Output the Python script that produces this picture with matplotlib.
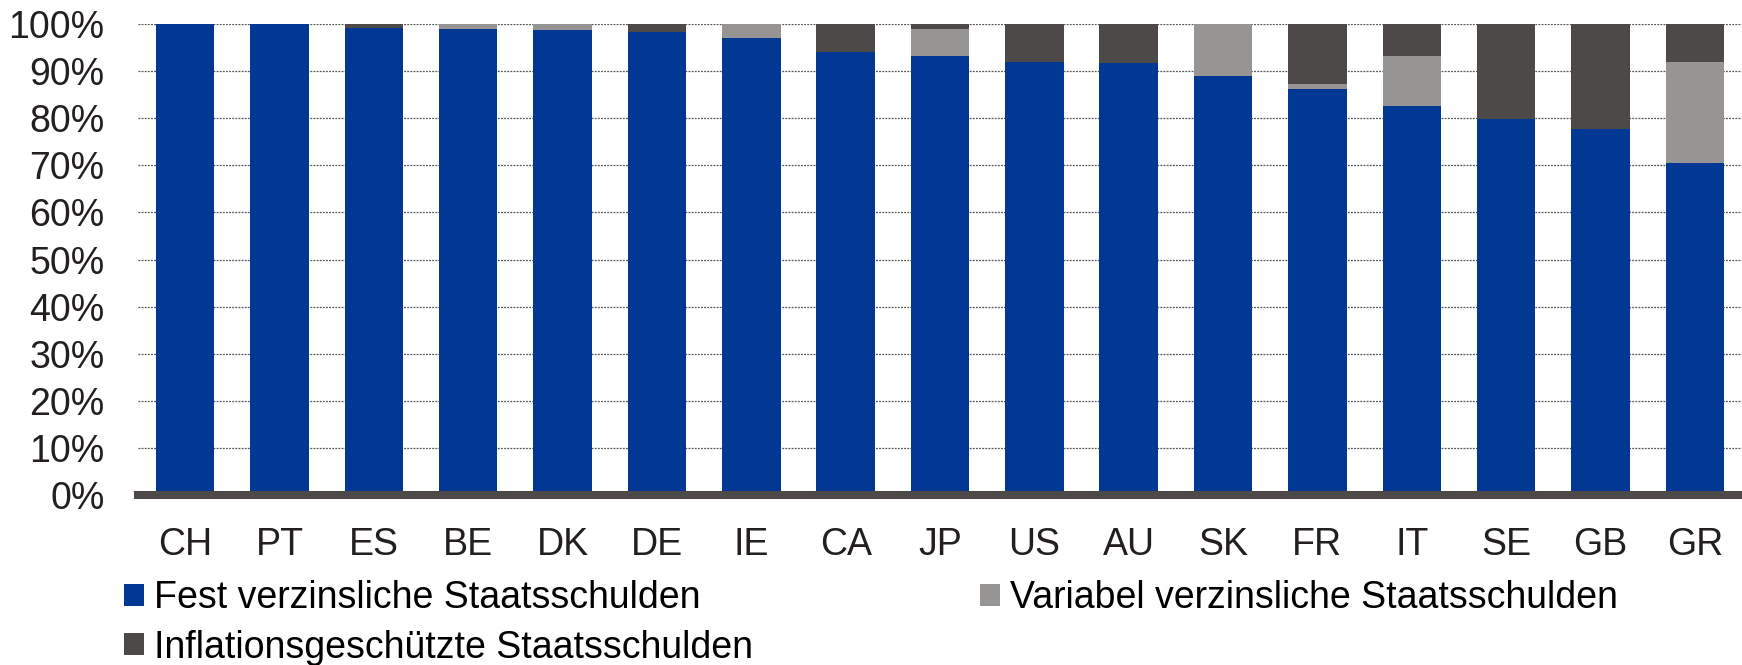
import matplotlib
matplotlib.use("Agg")
import matplotlib.pyplot as plt
from matplotlib.patches import Patch
import numpy as np

plt.rcParams['font.family'] = ['Liberation Sans', 'DejaVu Sans']

countries = ["CH", "PT", "ES", "BE", "DK", "DE", "IE", "CA", "JP", "US", "AU",
             "SK", "FR", "IT", "SE", "GB", "GR"]
fest = [100.0, 100.0, 99.2, 98.9, 98.7, 98.2, 97.1, 94.1, 93.3, 92.0, 91.8,
        88.9, 86.2, 82.5, 79.9, 77.7, 70.5]
variabel = [0.0, 0.0, 0.0, 1.1, 1.3, 0.0, 2.9, 0.0, 5.6, 0.0, 0.0,
            11.1, 1.0, 10.7, 0.0, 0.0, 21.4]
inflation = [0.0, 0.0, 0.8, 0.0, 0.0, 1.8, 0.0, 5.9, 1.1, 8.0, 8.2,
             0.0, 12.8, 6.8, 20.1, 22.3, 8.1]
yticks = [0, 10, 20, 30, 40, 50, 60, 70, 80, 90, 100]
labels = ["Fest verzinsliche Staatsschulden",
          "Variabel verzinsliche Staatsschulden",
          "Inflationsgeschützte Staatsschulden"]

c_fest = "#003894"
c_var = "#969594"
c_infl = "#4d4948"

W, H = 1742, 665
fig = plt.figure(figsize=(W / 100, H / 100), dpi=100)
ax = fig.add_axes([138 / W, 1 - 495 / H, 1 - 138 / W, (495 - 24) / H])

x = np.arange(len(countries))
fest_a = np.array(fest)
var_a = np.array(variabel)
infl_a = np.array(inflation)
bw = 0.62
ax.bar(x, fest_a, bw, color=c_fest, zorder=2)
ax.bar(x, var_a, bw, bottom=fest_a, color=c_var, zorder=2)
ax.bar(x, infl_a, bw, bottom=fest_a + var_a, color=c_infl, zorder=2)

ax.set_xlim(-0.5, len(countries) - 0.5)
ax.set_ylim(0, 100)
ax.set_yticks(yticks)
ax.set_yticklabels([f"{v}%" for v in yticks])
ax.set_xticks(x)
ax.set_xticklabels(countries)
ax.yaxis.grid(True, linestyle=(0, (1.5, 1)), color="#555555", linewidth=0.9, zorder=1)
ax.set_axisbelow(True)
for s in ["top", "right", "left"]:
    ax.spines[s].set_visible(False)
ax.spines["bottom"].set_color(c_infl)
ax.spines["bottom"].set_linewidth(5.8)
ax.spines["bottom"].set_zorder(5)
ax.tick_params(axis="both", length=0, labelsize=27, colors="#231f20")
ax.tick_params(axis="y", pad=24)
ax.tick_params(axis="x", pad=23)

h_fest = Patch(facecolor=c_fest, label=labels[0])
h_var = Patch(facecolor=c_var, label=labels[1])
h_infl = Patch(facecolor=c_infl, label=labels[2])

common = dict(frameon=False, fontsize=27, handlelength=0.52, handleheight=0.52,
              handletextpad=0.28, borderpad=0, borderaxespad=0, labelspacing=0.36)
leg1 = fig.legend(handles=[h_fest, h_infl], loc="upper left",
                  bbox_to_anchor=(124 / W, 1 - 580 / H), **common)
leg2 = fig.legend(handles=[h_var], loc="upper left",
                  bbox_to_anchor=(980 / W, 1 - 580 / H), **common)

fig.savefig("out.png", dpi=100)
